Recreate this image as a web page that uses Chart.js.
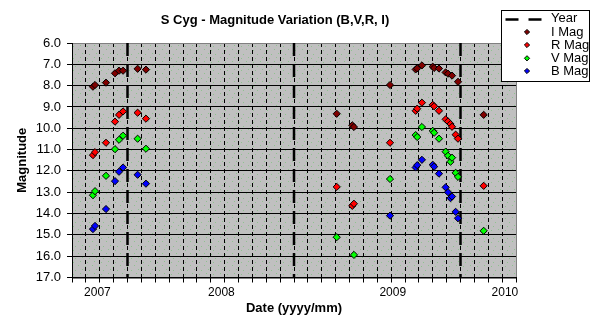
<!DOCTYPE html>
<html>
<head>
<meta charset="utf-8">
<script src="https://cdn.jsdelivr.net/npm/chart.js@4.4.1/dist/chart.umd.min.js"></script>
<style>
  html, body { margin: 0; padding: 0; background: #fff; }
  #wrap { width: 595px; height: 324px; }
</style>
</head>
<body>
<div id="wrap"><canvas id="c" width="595" height="324"></canvas></div>
<script>
const FONT = '"Liberation Sans", Arial, Helvetica, sans-serif';

// Observation dates, in months counted from the left end of the time axis
const obsMonth = [1.51, 1.66, 2.45, 3.10, 3.39, 3.68, 4.73, 5.33,
                  19.08, 20.20, 20.32, 22.92,
                  24.77, 24.88, 25.22, 26.00, 26.10, 26.45, 26.93, 27.10, 27.28, 27.39, 27.65, 27.82,
                  29.67];
// Magnitudes per band (null = no estimate that night)
const iMag = [8.05, 7.97, 7.86, 7.42, 7.30, 7.30, 7.21, 7.25,
              9.32, 9.86, 9.94, 7.97,
              7.24, 7.19, 7.05, 7.11, 7.17, 7.20, 7.38, 7.44, null, 7.53, null, 7.82,
              9.37];
const rMag = [11.26, 11.12, 10.68, 9.69, 9.37, 9.21, 9.27, 9.55,
              12.75, 13.64, 13.54, 10.68,
              9.18, 9.08, 8.80, 8.90, 8.97, 9.18, 9.58, 9.68, 9.80, 9.93, 10.30, 10.49,
              12.70];
const vMag = [13.14, 12.95, 12.23, 10.98, 10.54, 10.35, 10.49, 10.96,
              15.11, null, 15.94, 12.38,
              10.32, 10.41, 9.94, 10.12, 10.21, 10.49, 11.10, 11.29, 11.57, 11.38, 12.09, 12.28,
              14.81];
const bMag = [14.73, 14.58, 13.79, 12.48, 12.04, 11.84, 12.18, 12.60,
              null, null, null, 14.10,
              11.84, 11.73, 11.48, 11.71, 11.80, 12.13, 12.77, 13.00, 13.28, 13.20, 13.92, 14.22,
              null];

// Year boundary markers and the year captions on the time axis
const yearMarks = [4, 16, 28];
const yearLabels = ['2007', '2008', '2009', '2010'];
const yearLabelPos = [1.83, 10.77, 23.12, 31.2];

const monthCount = 32;
const magMin = 6, magMax = 17;

const bands = [
  { label: 'I Mag', values: iMag, color: '#800000' },
  { label: 'R Mag', values: rMag, color: '#ff0000' },
  { label: 'V Mag', values: vMag, color: '#00ff00' },
  { label: 'B Mag', values: bMag, color: '#0000ff' }
];

const bandDatasets = bands.map(b => ({
  label: b.label,
  data: obsMonth.map((m, i) => ({ x: m, y: b.values[i] })).filter(p => p.y !== null),
  pointStyle: 'rectRot',
  pointRadius: 3.6,
  pointBorderWidth: 1,
  pointBorderColor: '#000',
  pointBackgroundColor: b.color,
  backgroundColor: b.color,
  borderColor: '#000',
  showLine: false
}));

const yearDataset = {
  label: 'Year',
  type: 'line',
  data: yearMarks.flatMap(m => [{ x: m, y: magMin }, { x: m, y: magMax }, { x: m, y: null }]),
  borderColor: '#000',
  borderWidth: 2.5,
  borderDash: [13, 8],
  pointRadius: 0,
  spanGaps: false,
  fill: false,
  order: 10
};

// grey speckled plot-area fill
function makePattern(ctx) {
  const t = document.createElement('canvas');
  t.width = 14; t.height = 12;
  const g = t.getContext('2d');
  g.fillStyle = '#c0c0c0';
  g.fillRect(0, 0, 14, 12);
  g.fillStyle = '#8fc28f';
  [[1, 2], [8, 1], [5, 6], [12, 5], [3, 10], [10, 9]].forEach(([x, y]) => g.fillRect(x, y, 1, 1));
  return ctx.createPattern(t, 'repeat');
}

const plotBackground = {
  id: 'plotBackground',
  beforeDraw(chart) {
    const { ctx, chartArea: a } = chart;
    ctx.save();
    ctx.fillStyle = makePattern(ctx);
    ctx.fillRect(a.left, a.top, a.right - a.left, a.bottom - a.top);
    ctx.strokeStyle = '#808080';
    ctx.lineWidth = 1;
    ctx.strokeRect(Math.round(a.left) + 0.5, Math.round(a.top) + 0.5,
                   Math.round(a.right - a.left), Math.round(a.bottom - a.top));
    ctx.restore();
  }
};

const chartTitle = {
  id: 'chartTitle',
  afterDraw(chart) {
    const ctx = chart.ctx;
    ctx.save();
    ctx.font = 'bold 13px ' + FONT;
    ctx.fillStyle = '#000';
    ctx.textAlign = 'center';
    ctx.textBaseline = 'middle';
    ctx.fillText('S Cyg - Magnitude Variation (B,V,R, I)', 275, 20);
    ctx.restore();
  }
};

const boxLegend = {
  id: 'boxLegend',
  afterDraw(chart) {
    const ctx = chart.ctx;
    const x0 = 501.5, y0 = 10.5, w = 88, h = 71;
    ctx.save();
    ctx.fillStyle = '#fff';
    ctx.fillRect(x0, y0, w, h);
    ctx.strokeStyle = '#000';
    ctx.lineWidth = 1;
    ctx.strokeRect(x0, y0, w, h);
    ctx.font = '13px ' + FONT;
    ctx.textBaseline = 'middle';
    ctx.textAlign = 'left';
    ctx.fillStyle = '#000';
    const rows = [18.5, 32, 45, 58.3, 71];
    // Year entry: dashed line sample
    ctx.beginPath();
    ctx.lineWidth = 2.5;
    ctx.moveTo(505.5, rows[0] + 1); ctx.lineTo(518.5, rows[0] + 1);
    ctx.moveTo(528.5, rows[0] + 1); ctx.lineTo(541.5, rows[0] + 1);
    ctx.stroke();
    ctx.fillText(yearDataset.label, 551, rows[0]);
    bands.forEach((b, i) => {
      const y = rows[i + 1];
      ctx.beginPath();
      const r = 2.6, cx = 527;
      ctx.moveTo(cx - r, y); ctx.lineTo(cx, y - r); ctx.lineTo(cx + r, y); ctx.lineTo(cx, y + r);
      ctx.closePath();
      ctx.fillStyle = b.color;
      ctx.fill();
      ctx.lineWidth = 1;
      ctx.strokeStyle = '#000';
      ctx.stroke();
      ctx.fillStyle = '#000';
      ctx.fillText(b.label, 551, y);
    });
    ctx.restore();
  }
};

const clear = 'rgba(0,0,0,0)';

new Chart(document.getElementById('c'), {
  type: 'scatter',
  data: { datasets: [...bandDatasets, yearDataset] },
  options: {
    responsive: false,
    animation: false,
    devicePixelRatio: 1,
    layout: { padding: { top: 43, right: 79, left: 0, bottom: 0 } },
    plugins: {
      legend: { display: false },
      title: { display: false },
      tooltip: { enabled: false }
    },
    scales: {
      x: {
        type: 'linear',
        min: 0,
        max: monthCount,
        afterBuildTicks(scale) {
          const vals = [];
          for (let m = 0; m <= monthCount; m++) vals.push(m);
          yearLabelPos.forEach(p => vals.push(p));
          vals.sort((a, b) => a - b);
          scale.ticks = vals.map(v => ({ value: v }));
        },
        afterFit(scale) { scale.height = 46.5; },
        ticks: {
          autoSkip: false,
          maxRotation: 0,
          minRotation: 0,
          padding: 3,
          color: '#000',
          font: { family: FONT, size: 12 },
          callback(v) {
            const i = yearLabelPos.indexOf(v);
            return i >= 0 ? yearLabels[i] : '';
          }
        },
        grid: {
          color(ctx) {
            const v = ctx.tick ? ctx.tick.value : NaN;
            return (Number.isInteger(v) && v > 0 && v < monthCount) ? '#000' : clear;
          },
          tickColor(ctx) {
            const v = ctx.tick ? ctx.tick.value : NaN;
            return Number.isInteger(v) ? '#000' : clear;
          },
          lineWidth: 1,
          tickLength: 5
        },
        border: { color: '#000', width: 1, dash: [4, 3] },
        title: {
          display: true,
          text: 'Date (yyyy/mm)',
          color: '#000',
          font: { family: FONT, size: 13, weight: 'bold' },
          padding: { top: 0, bottom: 8 }
        }
      },
      y: {
        type: 'linear',
        reverse: true,
        min: magMin,
        max: magMax,
        afterFit(scale) { scale.width = 72; },
        ticks: {
          stepSize: 0.5,
          padding: 6,
          color: '#000',
          font: { family: FONT, size: 13 },
          callback(v) { return Number.isInteger(v) ? v.toFixed(1) : ''; }
        },
        grid: {
          color(ctx) {
            const v = ctx.tick ? ctx.tick.value : NaN;
            if (!Number.isInteger(v)) return clear;
            return v === magMin ? '#808080' : '#000';
          },
          tickColor: '#000',
          lineWidth: 1,
          tickLength: 5
        },
        border: { color: '#000', width: 1 },
        title: {
          display: true,
          text: 'Magnitude',
          color: '#000',
          font: { family: FONT, size: 13, weight: 'bold' },
          padding: { top: 15, bottom: 0 }
        }
      }
    }
  },
  plugins: [plotBackground, chartTitle, boxLegend]
});
</script>
</body>
</html>
